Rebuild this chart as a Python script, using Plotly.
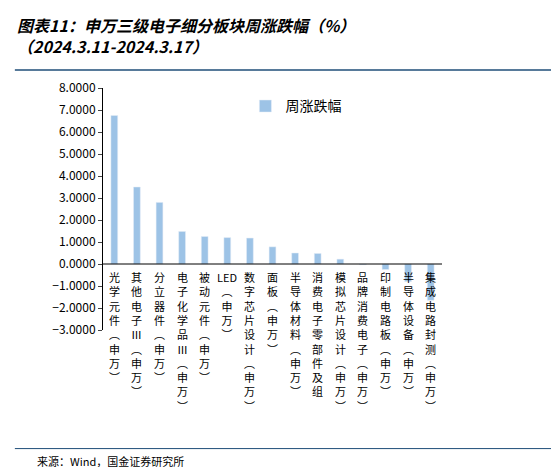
import plotly.graph_objects as go

cats = ["光学元件(申万)", "其他电子Ⅲ(申万)", "分立器件(申万)", "电子化学品Ⅲ(申万)", "被动元件(申万)",
        "LED(申万)", "数字芯片设计(申万)", "面板(申万)", "半导体材料(申万)", "消费电子零部件及组",
        "模拟芯片设计(申万)", "品牌消费电子(申万)", "印制电路板(申万)", "半导体设备(申万)", "集成电路封测(申万)"]
vals = [6.75, 3.5, 2.8, 1.48, 1.25, 1.2, 1.18, 0.78, 0.5, 0.48, 0.22, -0.03, -0.25, -0.8, -1.65]
yticks = [8, 7, 6, 5, 4, 3, 2, 1, 0, -1, -2, -3]

fig = go.Figure()
fig.add_trace(go.Bar(x=list(range(len(cats))), y=vals, name="周涨跌幅",
                     marker_color="#9dc3e6", width=0.3))

font = "Noto Sans CJK SC"


def vertical(label):
    parts = []
    rest = label
    if rest.startswith("LED"):
        parts.append("LED")
        rest = rest[3:]
    for ch in rest:
        parts.append({"(": "︵", ")": "︶"}.get(ch, ch))
    return "<br>".join(parts)


for i, c in enumerate(cats):
    fig.add_annotation(x=i, y=0, xref="x", yref="y", yanchor="top", yshift=-3,
                       text=vertical(c), showarrow=False,
                       font=dict(family=font, size=11, color="black"))

fig.add_annotation(x=-0.26, y=1.32, xref="paper", yref="paper", xanchor="left", yanchor="top",
                   text="<i><b>图表11：申万三级电子细分板块周涨跌幅（%）<br>（2024.3.11-2024.3.17）</b></i>",
                   align="left", showarrow=False, font=dict(family=font, size=16, color="black"))
fig.add_annotation(x=-0.2, y=-0.54, xref="paper", yref="paper", xanchor="left", yanchor="middle",
                   text="来源：Wind，国金证券研究所", showarrow=False,
                   font=dict(family=font, size=11, color="black"))
fig.add_shape(type="line", xref="paper", yref="paper", x0=-0.26, x1=1.35, y0=1.074, y1=1.074,
              line=dict(color="#1f4e79", width=1.5))
fig.add_shape(type="line", xref="paper", yref="paper", x0=-0.26, x1=1.35, y0=-0.49, y1=-0.49,
              line=dict(color="#1f4e79", width=1))
fig.add_shape(type="line", xref="x", yref="y", x0=-0.5, x1=len(cats) - 0.5, y0=0, y1=0,
              line=dict(color="black", width=1))

fig.update_layout(
    width=559, height=467, margin=dict(l=95, r=125, t=80, b=145),
    plot_bgcolor="white", paper_bgcolor="white", bargap=0.6,
    font=dict(family=font, size=12, color="black"),
    legend=dict(x=0.42, y=0.99, xanchor="left", yanchor="top", font=dict(size=14)),
    showlegend=True,
    xaxis=dict(showticklabels=False, range=[-0.5, len(cats) - 0.5], showgrid=False,
               ticks="", zeroline=False),
    yaxis=dict(range=[-3, 8], tickvals=yticks, tickformat=".4f", showgrid=False,
               zeroline=False, showline=True, linecolor="black", ticks="outside",
               ticklen=4, tickfont=dict(size=12)),
)
fig.write_html("out.html")
